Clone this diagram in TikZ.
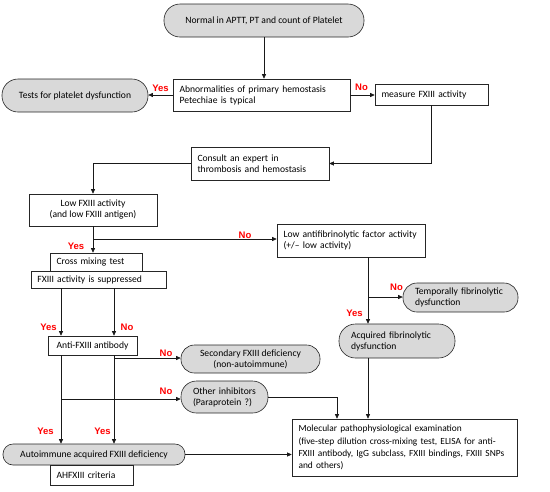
\documentclass[tikz,border=0pt]{standalone}
\usepackage{fontspec}
\setmainfont{Carlito}
\newfontfamily\lblfont{Liberation Sans}
\usetikzlibrary{arrows.meta}
\definecolor{pillgray}{HTML}{D9D9D9}
\definecolor{lblred}{HTML}{FF0000}
\begin{document}
\begin{tikzpicture}[x=1pt,y=-1pt,
  txt/.style={font=\fontsize{9.6}{11}\selectfont},
  box/.style={txt, draw=black!85, line width=0.6pt, fill=white, inner xsep=6.5pt, inner ysep=0pt, align=left},
  cbox/.style={txt, draw=black!85, line width=0.6pt, fill=white, inner xsep=4pt, inner ysep=0pt, align=center},
  pill/.style={txt, draw=black!85, line width=0.6pt, fill=pillgray, inner xsep=4pt, inner ysep=0pt, align=center},
  lpill/.style={txt, draw=black!85, line width=0.6pt, fill=pillgray, inner xsep=12pt, inner ysep=0pt, align=left},
  lbl/.style={font=\lblfont\bfseries\fontsize{9.5}{10}\selectfont, text=lblred, inner sep=0pt},
  arr/.style={-{Triangle[length=4.5pt,width=4pt]}, line width=0.6pt, draw=black!90}
]
\useasboundingbox[fill=white] (0,0) rectangle (550,491);

% nodes
\node[pill, minimum width=200pt, minimum height=33pt, rounded corners=16pt] (top) at (264,20.5) {Normal in APTT, PT and count of Platelet};
\node[box, minimum width=177pt, minimum height=32pt, text width=164pt] (abn) at (261.5,95) {Abnormalities of primary hemostasis\\Petechiae is typical};
\node[pill, minimum width=146pt, minimum height=33pt, rounded corners=16pt] (tests) at (75,95.5) {Tests for platelet dysfunction};
\node[box, minimum width=113pt, minimum height=21pt, text width=100pt] (meas) at (431.5,94.5) {measure FXIII activity};
\node[box, minimum width=138pt, minimum height=33pt, text width=125pt] (consult) at (260,163.5) {Consult an expert in\\thrombosis and hemostasis};
\node[cbox, minimum width=128pt, minimum height=32pt] (low) at (93,210) {Low FXIII activity\\(and low FXIII antigen)};
\node[box, minimum width=148pt, minimum height=33pt, text width=135pt] (antifib) at (351,240.5) {Low antifibrinolytic factor activity\\(+/\textendash{} low activity)};
\node[box, minimum width=92pt, minimum height=18pt, text width=79pt] (cross) at (96,262) {Cross mixing test};
\node[box, minimum width=135pt, minimum height=17pt, text width=122pt] (supp) at (98.5,279.5) {FXIII activity is suppressed};
\node[cbox, minimum width=89pt, minimum height=19pt] (anti) at (92.5,345.5) {Anti-FXIII antibody};
\node[pill, minimum width=139pt, minimum height=28pt, rounded corners=13.5pt] (sec) at (250.5,359) {Secondary FXIII deficiency\\(non-autoimmune)};
\node[lpill, minimum width=115pt, minimum height=29pt, text width=91pt, rounded corners=14pt] (temp) at (460.5,297.5) {Temporally fibrinolytic\\dysfunction};
\node[lpill, minimum width=116pt, minimum height=34pt, text width=92pt, rounded corners=16.5pt] (acq) at (397,341) {Acquired fibrinolytic\\dysfunction};
\node[lpill, minimum width=87pt, minimum height=32pt, text width=63pt, rounded corners=15.5pt] (other) at (224.5,397) {Other inhibitors\\(Paraprotein ?)};
\node[box, minimum width=225pt, minimum height=57pt, text width=212pt, font=\fontsize{9.4}{12.2}\selectfont] (molec) at (404.5,447.5) {Molecular pathophysiological examination\\(five-step dilution cross-mixing test, ELISA for anti-\\FXIII antibody, IgG subclass, FXIII bindings, FXIII SNPs\\and others)};
\node[pill, minimum width=182pt, minimum height=21pt, rounded corners=10pt] (auto) at (94,454.5) {Autoimmune acquired FXIII deficiency};
\node[box, minimum width=83pt, minimum height=20pt, text width=70pt] (ahf) at (91.5,475) {AHFXIII criteria};

% helper coordinates
\coordinate (xl) at (61,300);
\coordinate (xr) at (114,300);
\coordinate (xf) at (368,300);
\coordinate (xo) at (337,300);
\coordinate (b1) at (93,239);
\coordinate (b2) at (114,358);
\coordinate (b3) at (61,399);
\coordinate (b4) at (368,297);

% connectors
\draw[arr] (top.south) -- (top.south |- abn.north);
\draw[arr] (abn.west) -- (abn.west -| tests.east);
\draw[arr] (abn.east) -- (abn.east -| meas.west);
\draw[arr] (meas.south) |- (consult.east);
\draw[arr] (consult.west) -| (low.north);
\draw[arr] (low.south) -- (low.south |- cross.north);
\draw[arr] (b1) -- (b1 -| antifib.west);
\draw[arr] (xl |- supp.south) -- (xl |- anti.north);
\draw[arr] (xr |- supp.south) -- (xr |- anti.north);
\draw[arr] (xl |- anti.south) -- (xl |- auto.north);
\draw[arr] (xr |- anti.south) -- (xr |- auto.north);
\draw[arr] (b2) -- (b2 -| sec.west);
\draw[arr] (b3) -- (b3 -| other.west);
\draw[arr] (other.east) -| (xo |- molec.north);
\draw[arr] (xf |- antifib.south) -- (xf |- acq.north);
\draw[arr] (b4) -- (b4 -| temp.west);
\draw[arr] (xf |- acq.south) -- (xf |- molec.north);
\draw[arr] (auto.east) -- (auto.east -| molec.west);

% labels
\node[lbl] (l1) at (160.5,88) {Yes};
\node[lbl] (l2) at (361.5,87.5) {No};
\node[lbl] (l3) at (245,235) {No};
\node[lbl] (l4) at (76,246) {Yes};
\node[lbl] (l5) at (48.5,327) {Yes};
\node[lbl] (l6) at (127,327) {No};
\node[lbl] (l7) at (166,353) {No};
\node[lbl] (l8) at (396.5,287) {No};
\node[lbl] (l9) at (354.5,313) {Yes};
\node[lbl] (l10) at (166,391) {No};
\node[lbl] (l11) at (45.5,431) {Yes};
\node[lbl] (l12) at (102.5,431) {Yes};
\end{tikzpicture}
\end{document}
